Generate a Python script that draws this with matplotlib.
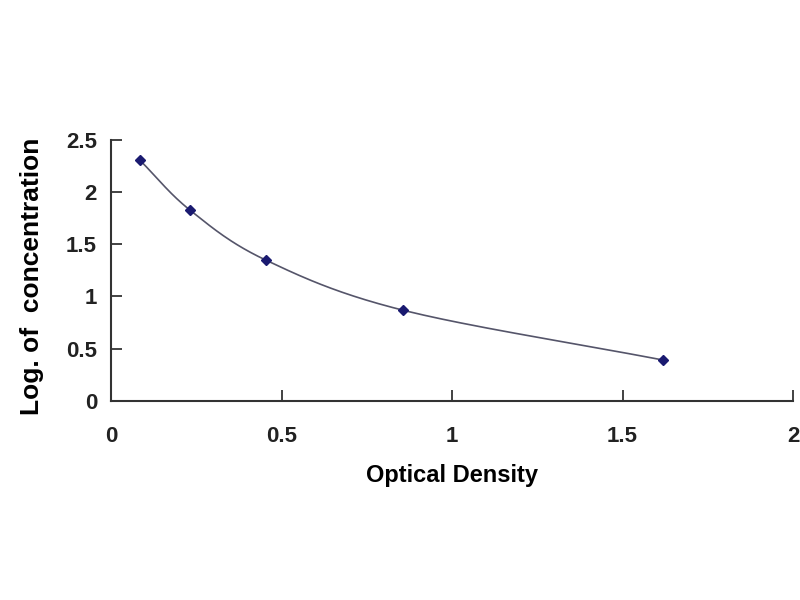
import numpy as np
import matplotlib
matplotlib.use("Agg")
import matplotlib.pyplot as plt

# standard curve data
od = [0.085, 0.232, 0.454, 0.855, 1.618]
log_conc = [2.301, 1.824, 1.347, 0.869, 0.392]

x_ticks = [0, 0.5, 1, 1.5, 2]
x_tick_labels = ["0", "0.5", "1", "1.5", "2"]
y_ticks = [0, 0.5, 1, 1.5, 2, 2.5]
y_tick_labels = ["0", "0.5", "1", "1.5", "2", "2.5"]


def smooth(xs, ys, n=40):
    # Catmull-Rom spline through the points (like Excel's smoothed line)
    xs = np.asarray(xs, float)
    ys = np.asarray(ys, float)
    px = np.concatenate([[2 * xs[0] - xs[1]], xs, [2 * xs[-1] - xs[-2]]])
    py = np.concatenate([[2 * ys[0] - ys[1]], ys, [2 * ys[-1] - ys[-2]]])
    outx, outy = [], []
    t = np.linspace(0, 1, n)
    for i in range(1, len(px) - 2):
        for p, out in ((px, outx), (py, outy)):
            p0, p1, p2, p3 = p[i - 1], p[i], p[i + 1], p[i + 2]
            out.extend(0.5 * ((2 * p1) + (-p0 + p2) * t
                              + (2 * p0 - 5 * p1 + 4 * p2 - p3) * t ** 2
                              + (-p0 + 3 * p1 - 3 * p2 + p3) * t ** 3))
    return np.array(outx), np.array(outy)


plt.rcParams['font.family'] = ['Liberation Sans', 'DejaVu Sans']

fig = plt.figure(figsize=(8, 6), dpi=100)
ax = fig.add_axes([0.13875, 0.3317, 0.8525, 0.4358])

sx, sy = smooth(od, log_conc)
ax.plot(sx, sy, color='#55556a', lw=1.2, zorder=2)
ax.plot(od, log_conc, linestyle='none', marker='D', markersize=5,
        color='#1a1a70', zorder=3)

ax.set_xlim(0, 2)
ax.set_ylim(0, 2.5)
ax.set_xticks(x_ticks)
ax.set_xticklabels(x_tick_labels, fontsize=16, fontweight='bold')
ax.set_yticks(y_ticks)
ax.set_yticklabels(y_tick_labels, fontsize=16, fontweight='bold')
ax.tick_params(axis='both', direction='in', length=8, width=1.2, colors='#222222')
ax.tick_params(axis='x', pad=18)
ax.tick_params(axis='y', pad=10)

for side in ['top', 'right']:
    ax.spines[side].set_visible(False)
for side in ['left', 'bottom']:
    ax.spines[side].set_linewidth(1.5)
    ax.spines[side].set_color('#333333')

ax.set_xlabel('Optical Density', fontsize=17, fontweight='bold', labelpad=12)
fig.text(0.04, 0.54, 'Log. of  concentration', rotation=90, fontsize=19,
         fontweight='bold', ha='center', va='center')

plt.savefig("out.png", dpi=100)
